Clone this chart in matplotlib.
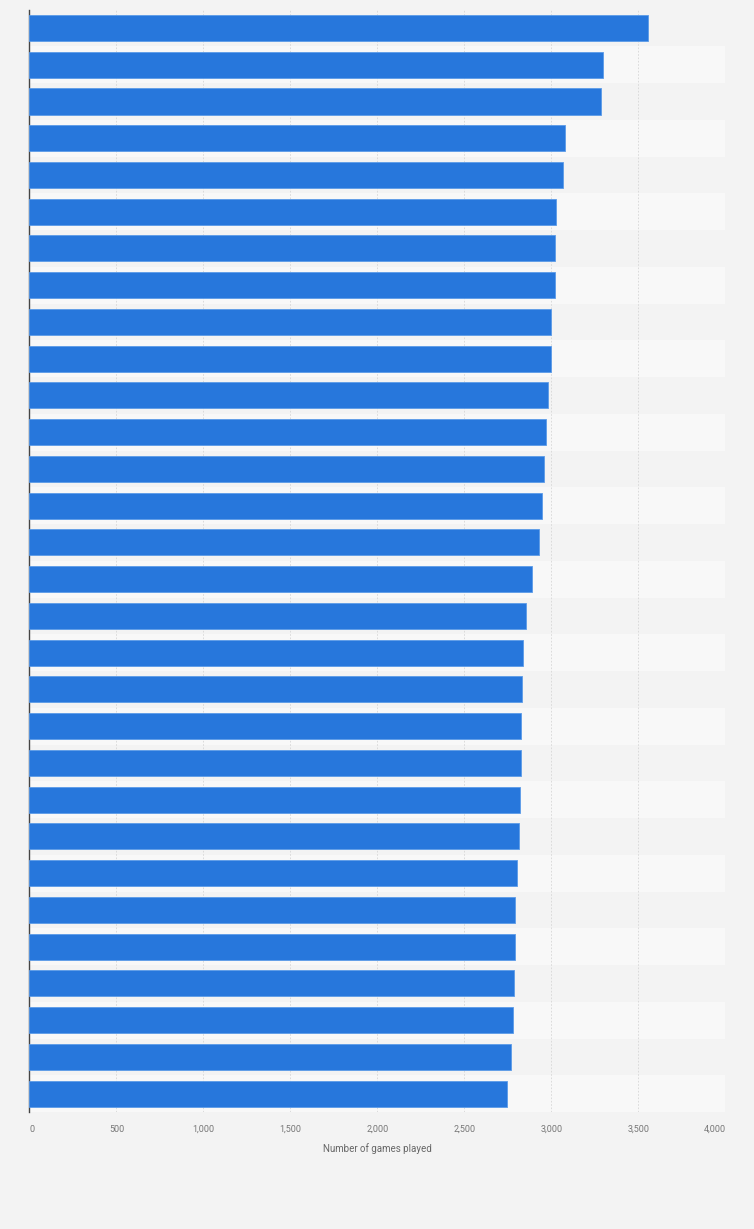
import numpy as np
import matplotlib.pyplot as plt

plt.rcParams['font.family'] = ['Roboto', 'DejaVu Sans']

# values, top to bottom
games = [3552, 3298, 3287, 3075, 3068, 3024, 3018, 3018, 2995, 2995,
         2978, 2966, 2959, 2943, 2926, 2886, 2851, 2838, 2828, 2822,
         2822, 2817, 2811, 2800, 2788, 2788, 2782, 2776, 2770, 2742]
xticks = [0, 500, 1000, 1500, 2000, 2500, 3000, 3500, 4000]
xticklabels = ['0', '500', '1,000', '1,500', '2,000', '2,500', '3,000', '3,500', '4,000']

fig = plt.figure(figsize=(7.54, 12.29), dpi=100)
fig.patch.set_facecolor('#f3f3f3')
ax = fig.add_axes([0.0391, 1 - 1112 / 1229, 0.9231, (1112 - 9.6) / 1229])
ax.set_facecolor('#f3f3f3')

y = np.arange(len(games))
for i in y:
    ax.axhspan(i - 0.5, i + 0.5, color='#f3f3f3' if i % 2 == 0 else '#f8f8f8',
               lw=0, zorder=0)

ax.barh(y, games, height=0.71, color='#2777dc', edgecolor='#5b9be8',
        linewidth=0.6, zorder=3)

ax.set_ylim(len(games) - 0.5, -0.5)
ax.set_xlim(0, 4000)
ax.set_yticks([])
ax.set_xticks(xticks)
ax.set_xticklabels(xticklabels, fontsize=6.5, color='#777777')
labs = ax.get_xticklabels()
labs[0].set_ha('left')
labs[-1].set_ha('right')
ax.tick_params(axis='x', length=0, pad=9)
ax.grid(axis='x', color='#d6d6d6', linestyle=(0, (2, 2)), linewidth=0.6, zorder=1)
ax.set_axisbelow(True)

for s in ['top', 'right', 'bottom']:
    ax.spines[s].set_visible(False)
ax.spines['left'].set_color('#444444')
ax.spines['left'].set_linewidth(1)

ax.set_xlabel('Number of games played', fontsize=7, color='#666666', labelpad=7)

fig.savefig('out.png', dpi=100, facecolor=fig.get_facecolor())
